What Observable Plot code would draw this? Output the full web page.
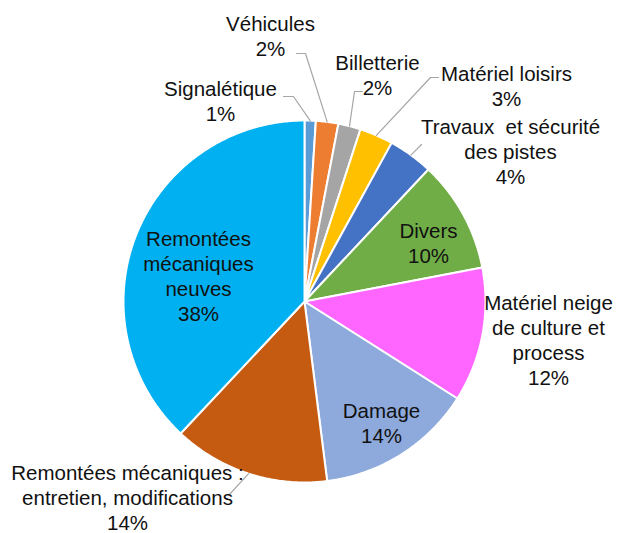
<!DOCTYPE html>
<html>
<head>
<meta charset="utf-8">
<script src="https://cdn.jsdelivr.net/npm/d3@7"></script>
<script src="https://cdn.jsdelivr.net/npm/@observablehq/plot@0.6"></script>
<style>
  html, body { margin: 0; padding: 0; background: #fff; }
  #chart svg { display: block; }
</style>
</head>
<body>
<div id="chart"></div>
<script>
// Data (clockwise from 12 o'clock)
const categories = [
  "Signalétique",
  "Véhicules",
  "Billetterie",
  "Matériel loisirs",
  "Travaux  et sécurité des pistes",
  "Divers",
  "Matériel neige de culture et process",
  "Damage",
  "Remontées mécaniques : entretien, modifications",
  "Remontées mécaniques neuves"
];
const values = [1, 2, 2, 3, 4, 10, 12, 14, 14, 38];
const labelTexts = [
  "Signalétique\n1%",
  "Véhicules\n2%",
  "Billetterie\n2%",
  "Matériel loisirs\n3%",
  "Travaux  et sécurité\ndes pistes\n4%",
  "Divers\n10%",
  "Matériel neige\nde culture et\nprocess\n12%",
  "Damage\n14%",
  "Remontées mécaniques :\nentretien, modifications\n14%",
  "Remontées\nmécaniques\nneuves\n38%"
];
const colors = ["#5B9BD5", "#ED7D31", "#A5A5A5", "#FFC000", "#4472C4",
                "#70AD47", "#FF66FF", "#8EA9DB", "#C55A11", "#00B0F0"];

// Layout (pixel space)
const W = 623, H = 533, CX = 304, CY = 301, R = 181;
const labelPos = [
  [220, 100], [270, 35], [377, 73.5], [506, 84.5], [510, 150],
  [428, 241.5], [548, 338.5], [381, 421.5], [127, 496], [198, 274.5]
];
// leader line extra points (after the pie-edge point), null = none
const leaderPts = [
  [[293, 96], [283, 96]],
  [[305, 53], [296, 53]],
  [[354, 91], [362, 91]],
  [[430, 77], [438, 77]],
  [[421, 144]],
  null, null, null,
  [[228, 495]],
  null
];

const pie = d3.pie().sort(null).value(d => d)(values);
const pt = a => [CX + R * Math.sin(a), CY - R * Math.cos(a)];

const slicePts = [];
pie.forEach((p, i) => {
  const name = categories[i];
  slicePts.push({name, x: CX, y: CY});
  const n = Math.max(2, Math.ceil((p.endAngle - p.startAngle) / 0.01));
  for (let k = 0; k <= n; k++) {
    const a = p.startAngle + (p.endAngle - p.startAngle) * k / n;
    const [x, y] = pt(a);
    slicePts.push({name, x, y});
  }
});

const leaders = [];
pie.forEach((p, i) => {
  if (!leaderPts[i]) return;
  const mid = (p.startAngle + p.endAngle) / 2;
  const [x0, y0] = pt(mid);
  leaders.push({name: categories[i], x: x0, y: y0});
  leaderPts[i].forEach(([x, y]) => leaders.push({name: categories[i], x, y}));
});

const labels = categories.map((c, i) => ({name: c, text: labelTexts[i], x: labelPos[i][0], y: labelPos[i][1]}));

const chart = Plot.plot({
  width: W, height: H,
  margin: 0,
  x: {domain: [0, W], range: [0, W], axis: null},
  y: {domain: [0, H], range: [0, H], axis: null},
  color: {domain: categories, range: colors},
  style: {fontFamily: "Arial, 'Liberation Sans', sans-serif", background: "#fff"},
  marks: [
    Plot.line(slicePts, {x: "x", y: "y", z: "name", fill: "name", stroke: "white", strokeWidth: 2, curve: "linear-closed", strokeLinejoin: "round"}),
    Plot.line(leaders, {x: "x", y: "y", z: "name", stroke: "#A6A6A6", strokeWidth: 1.2}),
    Plot.text(labels, {x: "x", y: "y", text: "text", fontSize: 20.5, lineHeight: 1.22, fill: "#111", lineAnchor: "middle", textAnchor: "middle"})
  ]
});
document.getElementById("chart").appendChild(chart);
</script>
</body>
</html>
